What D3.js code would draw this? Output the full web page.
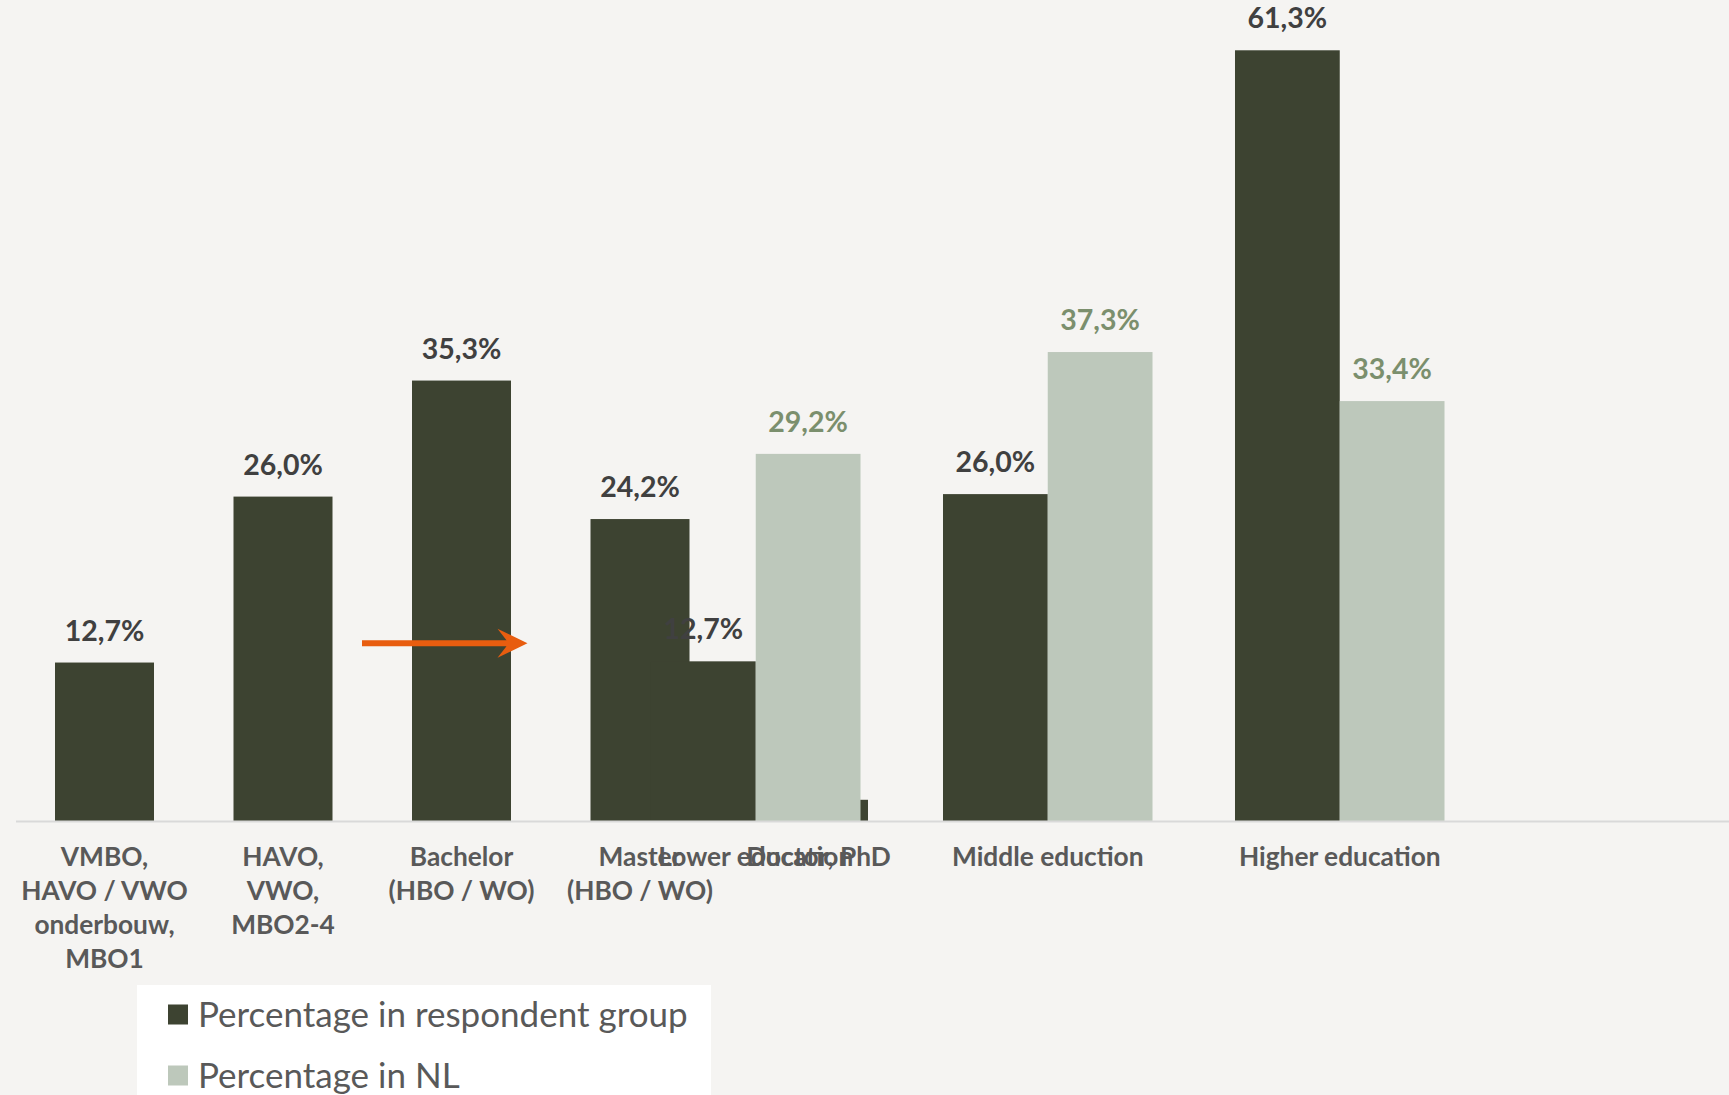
<!DOCTYPE html>
<html>
<head>
<meta charset="utf-8">
<script src="https://cdn.jsdelivr.net/npm/d3@7"></script>
<style>
  html, body { margin: 0; padding: 0; background: #f5f4f2; }
  svg { display: block; }
</style>
</head>
<body>
<svg id="chart" width="1729" height="1095"></svg>
<script>
// ---- Data: chart A (detailed levels, respondent group only)
const categoriesA = ["VMBO,\nHAVO / VWO\nonderbouw,\nMBO1", "HAVO,\nVWO,\nMBO2-4", "Bachelor\n(HBO / WO)", "Master\n(HBO / WO)", "Doctor, PhD"];
const valuesA = [12.7, 26.0, 35.3, 24.2, 1.7];

// ---- Data: chart B (grouped levels, respondent group vs NL)
const categoriesB = ["Lower education", "Middle eduction", "Higher education"];
const respondentB = [12.7, 26.0, 61.3];
const nlB = [29.2, 37.3, 33.4];
const seriesNames = ["Percentage in respondent group", "Percentage in NL"];

const C = {
  bg: "#f5f4f2", dark: "#3d4331", light: "#bdc8bb", axis: "#d9d9d9",
  labDark: "#404040", labLight: "#7b8f6d", cat: "#595959"
};
const FONT = "Lato, 'Open Sans', sans-serif";

const svg = d3.select("#chart");
svg.append("rect").attr("width", 1729).attr("height", 1095).attr("fill", C.bg);

const base = 821;
const fmt = v => d3.format(".1f")(v).replace(".", ",") + "%";

// ---- Chart A
const xA = d3.scaleBand().domain(categoriesA).range([15.25, 907.75]).paddingInner(0.4454).paddingOuter(0.2227);
const yA = d3.scaleLinear().domain([0, 65.8]).range([base, 0]);
const gA = svg.append("g");

gA.selectAll("rect.a").data(categoriesA.map((c, i) => ({c, v: valuesA[i]}))).join("rect")
  .attr("class", "a")
  .attr("x", d => xA(d.c)).attr("width", xA.bandwidth())
  .attr("y", d => yA(d.v)).attr("height", d => base - yA(d.v))
  .attr("fill", C.dark);

gA.selectAll("text.va").data(categoriesA.map((c, i) => ({c, v: valuesA[i]})).filter(d => d.v >= 5)).join("text")
  .attr("class", "va")
  .attr("x", d => xA(d.c) + xA.bandwidth() / 2)
  .attr("y", d => yA(d.v) - 22)
  .attr("text-anchor", "middle")
  .attr("font-family", FONT).attr("font-weight", 700).attr("font-size", 28.5)
  .attr("fill", C.labDark)
  .text(d => fmt(d.v));

const axA = gA.append("g").attr("transform", `translate(0,${base})`)
  .call(d3.axisBottom(xA).tickSize(0).tickFormat(""));
axA.select(".domain").remove();
axA.selectAll(".tick").each(function(d) {
  const t = d3.select(this).append("text")
    .attr("text-anchor", "middle")
    .attr("font-family", FONT).attr("font-weight", 700).attr("font-size", 26.3)
    .attr("fill", C.cat);
  d.split("\n").forEach((line, i) => {
    t.append("tspan").attr("x", 0).attr("y", 45 + i * 34).text(line);
  });
});

// ---- Chart B
const xB = d3.scaleBand().domain(categoriesB).range([609.75, 1485.75]).paddingInner(0.2825).paddingOuter(0.14125);
const xS = d3.scaleBand().domain(seriesNames).range([0, xB.bandwidth()]);
const yB = d3.scaleLinear().domain([0, 65.3]).range([base, 0]);
const gB = svg.append("g");

const rowsB = categoriesB.map((c, i) => ({c, vals: [respondentB[i], nlB[i]]}));
const groups = gB.selectAll("g.grp").data(rowsB).join("g")
  .attr("class", "grp")
  .attr("transform", d => `translate(${xB(d.c)},0)`);

groups.selectAll("rect").data(d => d.vals.map((v, j) => ({s: seriesNames[j], v, j}))).join("rect")
  .attr("x", d => xS(d.s)).attr("width", xS.bandwidth())
  .attr("y", d => yB(d.v)).attr("height", d => base - yB(d.v))
  .attr("fill", d => d.j === 0 ? C.dark : C.light);

groups.selectAll("text").data(d => d.vals.map((v, j) => ({s: seriesNames[j], v, j}))).join("text")
  .attr("x", d => xS(d.s) + xS.bandwidth() / 2)
  .attr("y", d => yB(d.v) - 22)
  .attr("text-anchor", "middle")
  .attr("font-family", FONT).attr("font-weight", 700).attr("font-size", 28.5)
  .attr("fill", d => d.j === 0 ? C.labDark : C.labLight)
  .text(d => fmt(d.v));

const axB = gB.append("g").attr("transform", `translate(0,${base})`)
  .call(d3.axisBottom(xB).tickSize(0).tickFormat(""));
axB.select(".domain").remove();
axB.selectAll(".tick").append("text")
  .attr("text-anchor", "middle").attr("y", 45)
  .attr("font-family", FONT).attr("font-weight", 700).attr("font-size", 26.3)
  .attr("fill", C.cat)
  .text(d => d);

// shared baseline
svg.append("line").attr("x1", 16).attr("x2", 1729).attr("y1", base + 0.5).attr("y2", base + 0.5)
  .attr("stroke", C.axis).attr("stroke-width", 2);

// ---- Orange arrow annotation (from Bachelor towards Master)
const ay = yA(14.25);
const ax0 = xA(categoriesA[2]) - 50;
const ax1 = xA(categoriesA[3]) - 63;
const arrow = d3.path();
arrow.moveTo(ax0, ay - 3);
arrow.lineTo(ax1 - 21, ay - 3);
arrow.lineTo(ax1 - 30, ay - 14.5);
arrow.lineTo(ax1, ay);
arrow.lineTo(ax1 - 30, ay + 14.5);
arrow.lineTo(ax1 - 21, ay + 3);
arrow.lineTo(ax0, ay + 3);
arrow.closePath();
svg.append("path").attr("d", arrow.toString()).attr("fill", "#e85d0f");

// ---- Legend
const lg = svg.append("g");
lg.append("rect").attr("x", 137).attr("y", 985).attr("width", 574).attr("height", 120).attr("fill", "#ffffff");
const items = lg.selectAll("g.it").data(seriesNames).join("g").attr("class", "it")
  .attr("transform", (d, i) => `translate(168,${1004.5 + i * 61})`);
items.append("rect").attr("width", 20).attr("height", 20)
  .attr("fill", (d, i) => i === 0 ? C.dark : C.light);
items.append("text").attr("x", 30).attr("y", 22)
  .attr("font-family", FONT).attr("font-size", 35).attr("fill", C.cat)
  .text(d => d);
</script>
</body>
</html>
